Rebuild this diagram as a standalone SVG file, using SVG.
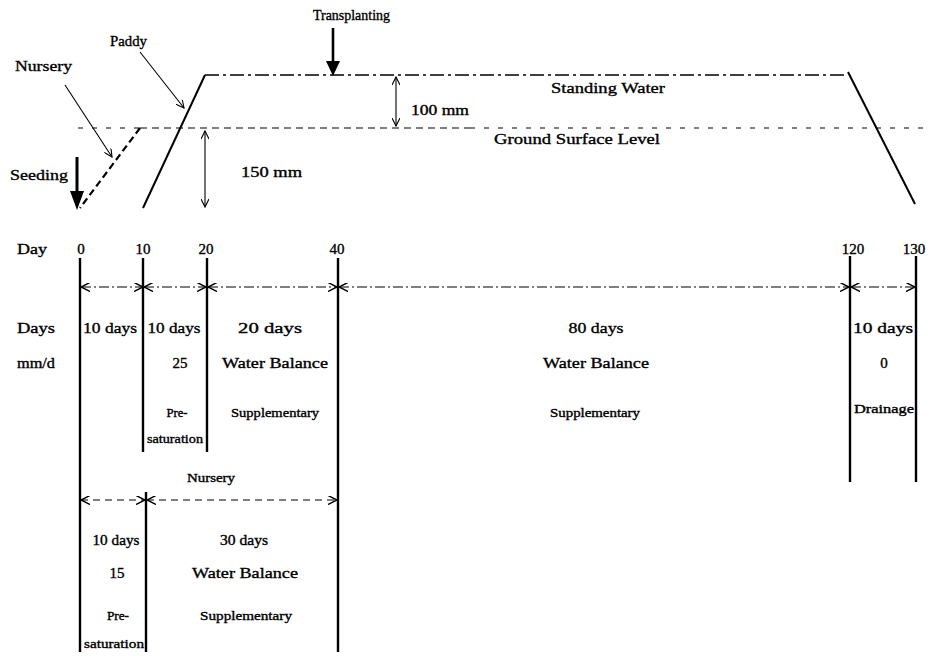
<svg xmlns="http://www.w3.org/2000/svg" width="932" height="656" viewBox="0 0 932 656">
<defs>
<style>
text{font-family:"Liberation Serif","Times New Roman",serif;fill:#000;stroke:#000;stroke-width:0.35;lengthAdjust:spacingAndGlyphs;}
.t15{font-size:15px;}
.t14{font-size:14px;}
.t13{font-size:13px;}
.t12{font-size:12px;}
.t11{font-size:11px;}
.m{text-anchor:middle;}
.v{stroke:#000;stroke-width:2.4;fill:none;}
.s{stroke:#000;stroke-width:2;fill:none;}
.thin{stroke:#000;stroke-width:1.1;fill:none;}
.dd{stroke:#000;stroke-width:1.2;fill:none;stroke-dasharray:10 3 2 3;}
.dsh{stroke:#000;stroke-width:1.2;fill:none;stroke-dasharray:7 5;}
.dot{stroke:#000;stroke-width:1.2;fill:none;stroke-dasharray:5 9;}
.wl{stroke:#000;stroke-width:1.3;fill:none;stroke-dasharray:14 4 3 4;}
.nd{stroke:#000;stroke-width:2.2;fill:none;stroke-dasharray:7 4;}
</style>
<marker id="oa" viewBox="0 0 10 10" refX="10" refY="5" markerWidth="9" markerHeight="9" markerUnits="userSpaceOnUse" orient="auto-start-reverse">
<path d="M0,0 L10,5 L0,10" fill="none" stroke="#000" stroke-width="1.6"/>
</marker>
<marker id="sa" viewBox="0 0 10 10" refX="10" refY="5" markerWidth="10" markerHeight="8" markerUnits="userSpaceOnUse" orient="auto-start-reverse">
<path d="M0,0 L10,5 L0,10" fill="none" stroke="#000" stroke-width="1.4"/>
</marker>
</defs>

<g id="profile">
<line class="wl" x1="205" y1="75" x2="848" y2="75"/>
<line class="dot" x1="78" y1="128" x2="140" y2="128"/>
<line class="dsh" x1="140" y1="128" x2="470" y2="128"/>
<line class="dot" x1="470" y1="128" x2="932" y2="128"/>
<line class="s" x1="205" y1="75" x2="143" y2="208"/>
<line class="s" x1="848" y1="72" x2="915" y2="204"/>
<path class="nd" d="M140,128 L80,208"/>
</g>

<g id="labels-top">
<text class="t14" x="313" y="20" textLength="77" lengthAdjust="spacingAndGlyphs">Transplanting</text>
<text class="t14" x="110" y="46" textLength="37" lengthAdjust="spacingAndGlyphs">Paddy</text>
<text class="t15" x="15" y="71" textLength="57" lengthAdjust="spacingAndGlyphs">Nursery</text>
<text class="t15" x="10" y="180" textLength="58" lengthAdjust="spacingAndGlyphs">Seeding</text>
<text class="t14" x="241" y="177" textLength="61" lengthAdjust="spacingAndGlyphs">150 mm</text>
<text class="t14" x="411" y="115" textLength="58" lengthAdjust="spacingAndGlyphs">100 mm</text>
<text class="t15" x="551" y="93" textLength="114" lengthAdjust="spacingAndGlyphs">Standing Water</text>
<text class="t15" x="494" y="144" textLength="166" lengthAdjust="spacingAndGlyphs">Ground Surface Level</text>
</g>

<g id="connectors">
<line class="thin" x1="140" y1="52" x2="184" y2="108" marker-end="url(#sa)"/>
<line class="thin" x1="65" y1="85" x2="112" y2="157" marker-end="url(#sa)"/>
<line stroke="#000" stroke-width="3" x1="77" y1="157" x2="77" y2="192"/>
<polygon points="70,191 84,191 77,210" fill="#000"/>
<line stroke="#000" stroke-width="2.6" x1="333" y1="28" x2="333" y2="62"/>
<polygon points="326,61 340,61 333,76" fill="#000"/>
<line class="thin" x1="205" y1="131" x2="205" y2="207" stroke-width="1.6" marker-start="url(#sa)" marker-end="url(#sa)"/>
<line class="thin" x1="396" y1="77" x2="396" y2="126" stroke-width="1.6" marker-start="url(#sa)" marker-end="url(#sa)"/>

<line class="dd" x1="81" y1="287" x2="143" y2="287" marker-start="url(#oa)" marker-end="url(#oa)"/>
<line class="dd" x1="144" y1="287" x2="206" y2="287" marker-start="url(#oa)" marker-end="url(#oa)"/>
<line class="dd" x1="208" y1="287" x2="337" y2="287" marker-start="url(#oa)" marker-end="url(#oa)"/>
<line class="dd" x1="339" y1="287" x2="849" y2="287" marker-start="url(#oa)" marker-end="url(#oa)"/>
<line class="dd" x1="851" y1="287" x2="915" y2="287" marker-start="url(#oa)" marker-end="url(#oa)"/>
<line class="dsh" x1="81" y1="500" x2="145" y2="500" marker-start="url(#oa)" marker-end="url(#oa)"/>
<line class="dsh" x1="147" y1="500" x2="337" y2="500" marker-start="url(#oa)" marker-end="url(#oa)"/>
</g>

<g id="timeline">
<line class="v" x1="80" y1="258" x2="80" y2="652"/>
<line class="v" x1="143" y1="258" x2="143" y2="452"/>
<line class="v" x1="207" y1="258" x2="207" y2="452"/>
<line class="v" x1="338" y1="258" x2="338" y2="652"/>
<line class="v" x1="850" y1="256" x2="850" y2="482"/>
<line class="v" x1="916" y1="256" x2="916" y2="482"/>
<line class="v" x1="146" y1="492" x2="146" y2="652"/>
</g>

<g id="day-axis">
<text class="t15" x="17" y="254" textLength="30" lengthAdjust="spacingAndGlyphs">Day</text>
<text class="t15 m" x="81" y="254">0</text>
<text class="t15 m" x="143" y="254">10</text>
<text class="t15 m" x="206" y="254">20</text>
<text class="t15 m" x="337" y="254">40</text>
<text class="t15 m" x="853" y="254">120</text>
<text class="t15 m" x="914" y="254">130</text>
<text class="t15" x="17" y="333" textLength="38" lengthAdjust="spacingAndGlyphs">Days</text>
<text class="t14" x="17" y="368" textLength="38" lengthAdjust="spacingAndGlyphs">mm/d</text>
</g>

<g id="paddy-stages">
<text class="t15 m" x="110" y="333" textLength="54" lengthAdjust="spacingAndGlyphs">10 days</text>
<text class="t15 m" x="174" y="333" textLength="53" lengthAdjust="spacingAndGlyphs">10 days</text>
<text class="t15 m" x="180" y="368">25</text>
<text class="t12 m" x="177" y="417" textLength="21" lengthAdjust="spacingAndGlyphs">Pre-</text>
<text class="t12 m" x="175" y="443" textLength="56" lengthAdjust="spacingAndGlyphs">saturation</text>
<text class="t15 m" x="270" y="333" textLength="64" lengthAdjust="spacingAndGlyphs">20 days</text>
<text class="t15 m" x="275" y="368" textLength="106" lengthAdjust="spacingAndGlyphs">Water Balance</text>
<text class="t12 m" x="275" y="417" textLength="88" lengthAdjust="spacingAndGlyphs">Supplementary</text>
<text class="t15 m" x="596" y="333" textLength="55" lengthAdjust="spacingAndGlyphs">80 days</text>
<text class="t15 m" x="596" y="368" textLength="106" lengthAdjust="spacingAndGlyphs">Water Balance</text>
<text class="t12 m" x="595" y="417" textLength="90" lengthAdjust="spacingAndGlyphs">Supplementary</text>
<text class="t15 m" x="883" y="333" textLength="60" lengthAdjust="spacingAndGlyphs">10 days</text>
<text class="t15 m" x="884" y="368">0</text>
<text class="t12 m" x="884" y="413" textLength="60" lengthAdjust="spacingAndGlyphs">Drainage</text>
</g>

<g id="nursery-stages">
<text class="t12 m" x="211" y="482" textLength="48" lengthAdjust="spacingAndGlyphs">Nursery</text>
<text class="t14 m" x="116" y="545" textLength="47" lengthAdjust="spacingAndGlyphs">10 days</text>
<text class="t15 m" x="117" y="578">15</text>
<text class="t12 m" x="118" y="620" textLength="22" lengthAdjust="spacingAndGlyphs">Pre-</text>
<text class="t12 m" x="114" y="648" textLength="60" lengthAdjust="spacingAndGlyphs">saturation</text>
<text class="t14 m" x="244" y="545" textLength="48" lengthAdjust="spacingAndGlyphs">30 days</text>
<text class="t15 m" x="245" y="578" textLength="106" lengthAdjust="spacingAndGlyphs">Water Balance</text>
<text class="t12 m" x="246" y="620" textLength="92" lengthAdjust="spacingAndGlyphs">Supplementary</text>
</g>
</svg>
